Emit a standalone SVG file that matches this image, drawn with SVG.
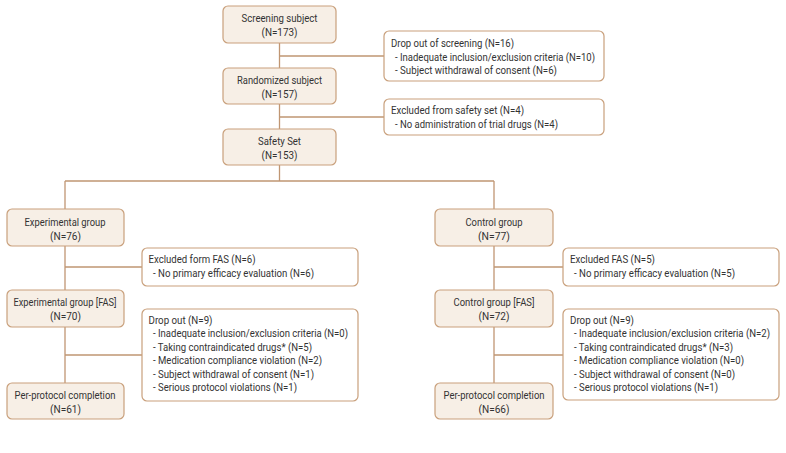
<svg xmlns="http://www.w3.org/2000/svg" width="786" height="453" viewBox="0 0 786 453">
<style>
.box{fill:#f7efe6;stroke:#c9a07c;stroke-width:1.2}
.side{fill:#ffffff;stroke:#c9a07c;stroke-width:1.2}
.ln{stroke:#c09673;stroke-width:1.3;fill:none}
text{font-family:Roboto,"Liberation Sans",sans-serif;font-size:11.5px;fill:#333333}
.c{text-anchor:middle}
</style>
<rect width="786" height="453" fill="#ffffff"/>
<g id="connectors">
<path class="ln" d="M279.5 43V129M279.5 56H384M279.5 117H384M279.5 165V181M65 181H494M65 181V209M494 181V209"/>
<path class="ln" d="M65 246V290M65 267H142M65 327V383M65 355H142"/>
<path class="ln" d="M494 246V290M494 267H563M494 327V383M494 355H563"/>
</g>
<g id="screening"><rect class="box" x="223" y="6" width="113" height="37" rx="5"/><text class="c" x="279.5" y="22" textLength="76" lengthAdjust="spacingAndGlyphs">Screening subject</text><text class="c" x="279.5" y="36" textLength="36" lengthAdjust="spacingAndGlyphs">(N=173)</text></g>
<g id="dropout-screening"><rect class="side" x="384" y="31" width="220" height="50" rx="5"/><text x="391" y="47" textLength="123" lengthAdjust="spacingAndGlyphs">Drop out of screening (N=16)</text><text x="395" y="60.5" textLength="200" lengthAdjust="spacingAndGlyphs">- Inadequate inclusion/exclusion criteria (N=10)</text><text x="395" y="74" textLength="162" lengthAdjust="spacingAndGlyphs">- Subject withdrawal of consent (N=6)</text></g>
<g id="randomized"><rect class="box" x="223" y="68" width="113" height="36" rx="5"/><text class="c" x="279.5" y="84" textLength="85" lengthAdjust="spacingAndGlyphs">Randomized subject</text><text class="c" x="279.5" y="98" textLength="36" lengthAdjust="spacingAndGlyphs">(N=157)</text></g>
<g id="excluded-safety"><rect class="side" x="384" y="99" width="220" height="36" rx="5"/><text x="391" y="114" textLength="133" lengthAdjust="spacingAndGlyphs">Excluded from safety set (N=4)</text><text x="395" y="127.5" textLength="163" lengthAdjust="spacingAndGlyphs">- No administration of trial drugs (N=4)</text></g>
<g id="safety"><rect class="box" x="223" y="129" width="113" height="36" rx="5"/><text class="c" x="279.5" y="145" textLength="43" lengthAdjust="spacingAndGlyphs">Safety Set</text><text class="c" x="279.5" y="159" textLength="36" lengthAdjust="spacingAndGlyphs">(N=153)</text></g>
<g id="exp"><rect class="box" x="7" y="209" width="117" height="37" rx="5"/><text class="c" x="65" y="225.5" textLength="81" lengthAdjust="spacingAndGlyphs">Experimental group</text><text class="c" x="65.5" y="239.5" textLength="31" lengthAdjust="spacingAndGlyphs">(N=76)</text></g>
<g id="exp-excl"><rect class="side" x="142" y="248" width="216" height="38" rx="5"/><text x="148.5" y="263" textLength="107" lengthAdjust="spacingAndGlyphs">Excluded form FAS (N=6)</text><text x="153" y="276.5" textLength="161" lengthAdjust="spacingAndGlyphs">- No primary efficacy evaluation (N=6)</text></g>
<g id="exp-fas"><rect class="box" x="7" y="290" width="117" height="37" rx="5"/><text class="c" x="65" y="306" textLength="103" lengthAdjust="spacingAndGlyphs">Experimental group [FAS]</text><text class="c" x="65.5" y="320" textLength="31" lengthAdjust="spacingAndGlyphs">(N=70)</text></g>
<g id="exp-drop"><rect class="side" x="142" y="309" width="216" height="92" rx="5"/><text x="148.5" y="324" textLength="64" lengthAdjust="spacingAndGlyphs">Drop out (N=9)</text><text x="153" y="337.4" textLength="195" lengthAdjust="spacingAndGlyphs">- Inadequate inclusion/exclusion criteria (N=0)</text><text x="153" y="350.8" textLength="159" lengthAdjust="spacingAndGlyphs">- Taking contraindicated drugs* (N=5)</text><text x="153" y="364.2" textLength="169" lengthAdjust="spacingAndGlyphs">- Medication compliance violation (N=2)</text><text x="153" y="377.6" textLength="161" lengthAdjust="spacingAndGlyphs">- Subject withdrawal of consent (N=1)</text><text x="153" y="391" textLength="144" lengthAdjust="spacingAndGlyphs">- Serious protocol violations (N=1)</text></g>
<g id="exp-pp"><rect class="box" x="7" y="383" width="117" height="36" rx="5"/><text class="c" x="65" y="399" textLength="101" lengthAdjust="spacingAndGlyphs">Per-protocol completion</text><text class="c" x="65.5" y="413" textLength="31" lengthAdjust="spacingAndGlyphs">(N=61)</text></g>
<g id="ctl"><rect class="box" x="435" y="209" width="118" height="37" rx="5"/><text class="c" x="494" y="225.5" textLength="57" lengthAdjust="spacingAndGlyphs">Control group</text><text class="c" x="494" y="239.5" textLength="32" lengthAdjust="spacingAndGlyphs">(N=77)</text></g>
<g id="ctl-excl"><rect class="side" x="563" y="248" width="216" height="38" rx="5"/><text x="570" y="263" textLength="85" lengthAdjust="spacingAndGlyphs">Excluded FAS (N=5)</text><text x="574" y="276.5" textLength="161" lengthAdjust="spacingAndGlyphs">- No primary efficacy evaluation (N=5)</text></g>
<g id="ctl-fas"><rect class="box" x="435" y="290" width="118" height="37" rx="5"/><text class="c" x="494" y="306" textLength="81" lengthAdjust="spacingAndGlyphs">Control group [FAS]</text><text class="c" x="494" y="320" textLength="31" lengthAdjust="spacingAndGlyphs">(N=72)</text></g>
<g id="ctl-drop"><rect class="side" x="563" y="309" width="216" height="91" rx="5"/><text x="570" y="324" textLength="64" lengthAdjust="spacingAndGlyphs">Drop out (N=9)</text><text x="574" y="337.4" textLength="196" lengthAdjust="spacingAndGlyphs">- Inadequate inclusion/exclusion criteria (N=2)</text><text x="574" y="350.8" textLength="159" lengthAdjust="spacingAndGlyphs">- Taking contraindicated drugs* (N=3)</text><text x="574" y="364.2" textLength="170" lengthAdjust="spacingAndGlyphs">- Medication compliance violation (N=0)</text><text x="574" y="377.6" textLength="161" lengthAdjust="spacingAndGlyphs">- Subject withdrawal of consent (N=0)</text><text x="574" y="391" textLength="144" lengthAdjust="spacingAndGlyphs">- Serious protocol violations (N=1)</text></g>
<g id="ctl-pp"><rect class="box" x="435" y="383" width="118" height="36" rx="5"/><text class="c" x="494" y="399" textLength="101" lengthAdjust="spacingAndGlyphs">Per-protocol completion</text><text class="c" x="494" y="413" textLength="31" lengthAdjust="spacingAndGlyphs">(N=66)</text></g>
</svg>
